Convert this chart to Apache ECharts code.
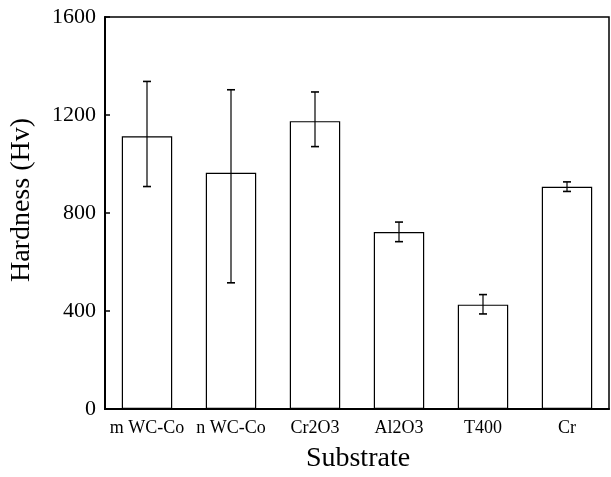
<!DOCTYPE html>
<html>
<head>
<meta charset="utf-8">
<script src="https://cdn.jsdelivr.net/npm/echarts@6/dist/echarts.min.js"></script>
<style>
html,body{margin:0;padding:0;background:#fff;}
#chart{width:611px;height:477px;}
</style>
</head>
<body>
<div id="chart"></div>
<script>
var categories = ['m WC-Co', 'n WC-Co', 'Cr2O3', 'Al2O3', 'T400', 'Cr'];
var hardness = [1113, 964, 1175, 722, 426, 907];
var errLow = [908, 515, 1071, 683, 388, 888];
var errHigh = [1337, 1303, 1294, 763, 467, 927];
var yTicks = [0, 400, 800, 1200, 1600];

var FONT = '"Liberation Serif", "Times New Roman", serif';
var chart = echarts.init(document.getElementById('chart'), null, {renderer: 'canvas'});

var errData = categories.map(function (c, i) { return [i, errLow[i], errHigh[i]]; });

chart.setOption({
  animation: false,
  backgroundColor: '#fff',
  grid: {left: 105, right: 2, top: 17, bottom: 68, show: true, borderColor: '#000', borderWidth: 1.5, backgroundColor: 'transparent'},
  xAxis: {
    type: 'category',
    data: categories,
    axisLine: {show: true, lineStyle: {color: '#000', width: 2}},
    axisTick: {show: false},
    axisLabel: {color: '#000', fontFamily: FONT, fontSize: 18, margin: 10, interval: 0}
  },
  yAxis: {
    type: 'value',
    min: yTicks[0],
    max: yTicks[yTicks.length - 1],
    interval: 400,
    axisLine: {show: true, lineStyle: {color: '#000', width: 2}},
    axisTick: {show: true, inside: true, length: 5, lineStyle: {color: '#000', width: 1.5}},
    splitLine: {show: false},
    axisLabel: {color: '#000', fontFamily: FONT, fontSize: 22, margin: 9, formatter: function (v) { return String(v); }}
  },
  graphic: [
    {type: 'text', rotation: Math.PI / 2, x: 22, y: 200,
     style: {text: 'Hardness (Hv)', fontFamily: FONT, fontSize: 28, fill: '#000', align: 'center', verticalAlign: 'middle', textAlign: 'center', textVerticalAlign: 'middle'}},
    {type: 'text', x: 358, y: 459,
     style: {text: 'Substrate', fontFamily: FONT, fontSize: 28, fill: '#000', align: 'center', verticalAlign: 'middle', textAlign: 'center', textVerticalAlign: 'middle'}}
  ],
  series: [
    {
      type: 'bar',
      data: hardness,
      barWidth: '60%',
      itemStyle: {color: '#fff', borderColor: '#000', borderWidth: 1.2},
      silent: true
    },
    {
      type: 'custom',
      data: errData,
      silent: true,
      z: 10,
      renderItem: function (params, api) {
        var x = api.value(0);
        var lo = api.coord([x, api.value(1)]);
        var hi = api.coord([x, api.value(2)]);
        var cap = 4;
        return {
          type: 'group',
          children: [
            {type: 'line', shape: {x1: lo[0], y1: lo[1], x2: hi[0], y2: hi[1]}, style: {stroke: '#000', lineWidth: 1.2}},
            {type: 'line', shape: {x1: lo[0] - cap, y1: lo[1], x2: lo[0] + cap, y2: lo[1]}, style: {stroke: '#000', lineWidth: 1.6}},
            {type: 'line', shape: {x1: hi[0] - cap, y1: hi[1], x2: hi[0] + cap, y2: hi[1]}, style: {stroke: '#000', lineWidth: 1.6}}
          ]
        };
      }
    }
  ]
});
</script>
</body>
</html>
